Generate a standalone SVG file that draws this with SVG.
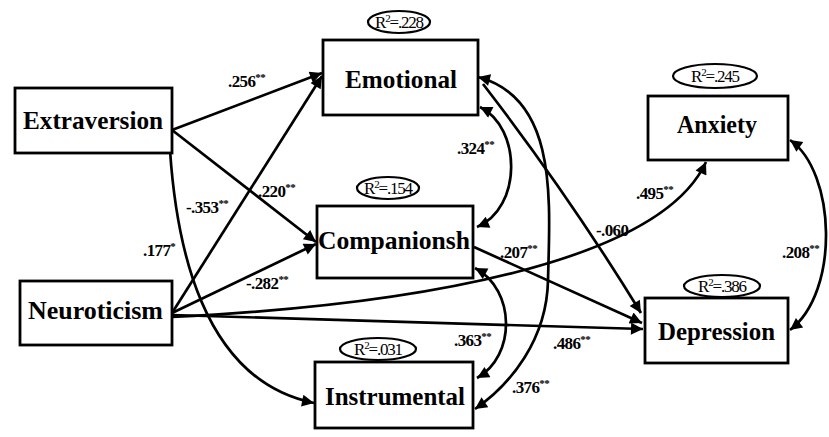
<svg xmlns="http://www.w3.org/2000/svg" width="829" height="437" viewBox="0 0 829 437">
<style>
.box{fill:#fff;stroke:#000;stroke-width:2.8}
.nt{font-family:"Liberation Serif","DejaVu Serif",serif;font-weight:bold;font-size:26px;fill:#000}
.r2{fill:#fff;stroke:#000;stroke-width:2.2}
.rt{font-family:"Liberation Serif","DejaVu Serif",serif;font-size:17px;fill:#000;letter-spacing:-1.2px}
.lb{font-family:"Liberation Serif","DejaVu Serif",serif;font-weight:bold;font-size:17px;fill:#000;letter-spacing:-0.6px}
.st{font-size:11px}
.c{fill:none;stroke:#000;stroke-width:2.7}
</style>
<defs>
<marker id="ah" viewBox="0 0 10 10" refX="10" refY="5" markerWidth="17" markerHeight="12" markerUnits="userSpaceOnUse" orient="auto-start-reverse"><path d="M0,0 L10,5 L0,10 z" fill="#000"/></marker>
</defs>
<g id="connectors">
<line class="c" x1="172" y1="130" x2="322" y2="73" marker-end="url(#ah)"/>
<line class="c" x1="172" y1="130" x2="316" y2="242" marker-end="url(#ah)"/>
<line class="c" x1="172" y1="313" x2="322" y2="76" marker-end="url(#ah)"/>
<line class="c" x1="172" y1="313" x2="316" y2="244" marker-end="url(#ah)"/>
<path class="c" d="M172,315 L643,329" marker-end="url(#ah)"/>
<path class="c" d="M172,317 C420,305 660,262 706,162" marker-end="url(#ah)"/>
<path class="c" d="M170,150 C176,240 200,380 314,403" marker-end="url(#ah)"/>
<line class="c" x1="474" y1="247" x2="642" y2="323" marker-end="url(#ah)"/>
<path class="c" d="M483,84 Q568,194 641,313" marker-end="url(#ah)"/>
<path class="c" d="M480,107 C522,128 522,208 477,227" marker-start="url(#ah)" marker-end="url(#ah)"/>
<path class="c" d="M478,77 C558,98 550,200 548,280 C547,340 510,385 475,409" marker-start="url(#ah)" marker-end="url(#ah)"/>
<path class="c" d="M475,268 C516,290 516,356 477,378" marker-start="url(#ah)" marker-end="url(#ah)"/>
<path class="c" d="M790,140 C836,172 840,292 790,330" marker-start="url(#ah)" marker-end="url(#ah)"/>
</g>
<g id="labels">
<text class="lb" x="228" y="87">.256<tspan class="st" dy="-6">**</tspan></text>
<text class="lb" x="258" y="197">.220<tspan class="st" dy="-6">**</tspan></text>
<text class="lb" x="186" y="213">-.353<tspan class="st" dy="-6">**</tspan></text>
<text class="lb" x="143" y="256">.177<tspan class="st" dy="-6">*</tspan></text>
<text class="lb" x="246" y="289">-.282<tspan class="st" dy="-6">**</tspan></text>
<text class="lb" x="457" y="154">.324<tspan class="st" dy="-6">**</tspan></text>
<text class="lb" x="500" y="258">.207<tspan class="st" dy="-6">**</tspan></text>
<text class="lb" x="596" y="236">-.060</text>
<text class="lb" x="636" y="199">.495<tspan class="st" dy="-6">**</tspan></text>
<text class="lb" x="782" y="258">.208<tspan class="st" dy="-6">**</tspan></text>
<text class="lb" x="454" y="346">.363<tspan class="st" dy="-6">**</tspan></text>
<text class="lb" x="553" y="349">.486<tspan class="st" dy="-6">**</tspan></text>
<text class="lb" x="512" y="393">.376<tspan class="st" dy="-6">**</tspan></text>
</g>
<g id="extraversion">
<rect class="box" x="15" y="88" width="157" height="65"/>
<text class="nt" x="23" y="129" textLength="140" lengthAdjust="spacingAndGlyphs">Extraversion</text>
</g>
<g id="neuroticism">
<rect class="box" x="20" y="281" width="152" height="64"/>
<text class="nt" x="28" y="319" textLength="135" lengthAdjust="spacingAndGlyphs">Neuroticism</text>
</g>
<g id="emotional">
<rect class="box" x="323" y="40" width="155" height="75"/>
<text class="nt" x="345" y="88" textLength="112" lengthAdjust="spacingAndGlyphs">Emotional</text>
<ellipse class="r2" cx="399" cy="22" rx="31" ry="11"/>
<text class="rt" x="399" y="28" text-anchor="middle">R<tspan font-size="11" dy="-6">2</tspan><tspan dy="6">=.228</tspan></text>
</g>
<g id="companionship">
<rect class="box" x="317" y="206" width="156" height="72"/>
<text class="nt" x="318" y="249" textLength="152" lengthAdjust="spacingAndGlyphs">Companionsh</text>
<ellipse class="r2" cx="388" cy="188" rx="31" ry="11"/>
<text class="rt" x="388" y="194" text-anchor="middle">R<tspan font-size="11" dy="-6">2</tspan><tspan dy="6">=.154</tspan></text>
</g>
<g id="instrumental">
<rect class="box" x="315" y="362" width="158" height="66"/>
<text class="nt" x="325" y="405" textLength="140" lengthAdjust="spacingAndGlyphs">Instrumental</text>
<ellipse class="r2" cx="378" cy="349" rx="38" ry="11"/>
<text class="rt" x="378" y="355" text-anchor="middle">R<tspan font-size="11" dy="-6">2</tspan><tspan dy="6">=.031</tspan></text>
</g>
<g id="anxiety">
<rect class="box" x="648" y="96" width="140" height="64"/>
<text class="nt" x="677" y="133" textLength="80" lengthAdjust="spacingAndGlyphs">Anxiety</text>
<ellipse class="r2" cx="715" cy="76" rx="42" ry="12"/>
<text class="rt" x="715" y="82" text-anchor="middle">R<tspan font-size="11" dy="-6">2</tspan><tspan dy="6">=.245</tspan></text>
</g>
<g id="depression">
<rect class="box" x="645" y="298" width="143" height="65"/>
<text class="nt" x="658" y="340" textLength="117" lengthAdjust="spacingAndGlyphs">Depression</text>
<ellipse class="r2" cx="722" cy="286" rx="38" ry="11"/>
<text class="rt" x="722" y="292" text-anchor="middle">R<tspan font-size="11" dy="-6">2</tspan><tspan dy="6">=.386</tspan></text>
</g>
</svg>
